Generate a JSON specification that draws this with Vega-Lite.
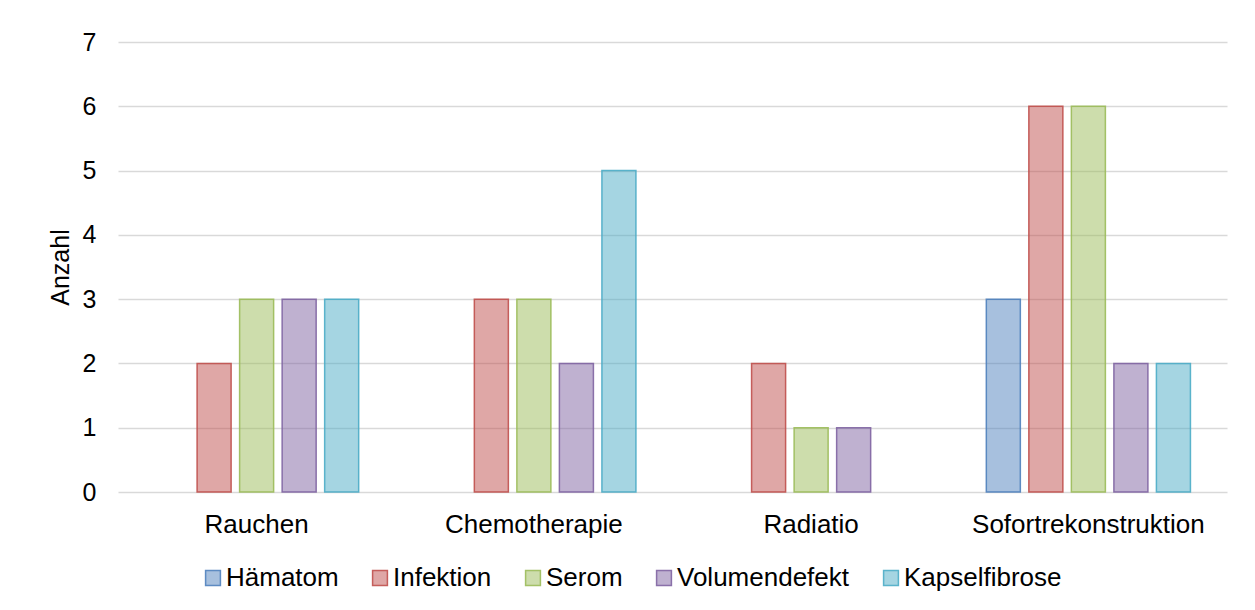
{
  "$schema": "https://vega.github.io/schema/vega-lite/v6.json",
  "width": 1109,
  "height": 450,
  "autosize": {"type": "none"},
  "padding": {"left": 118, "top": 42, "right": 28, "bottom": 118},
  "background": "white",
  "config": {
    "font": "Liberation Sans",
    "view": {"stroke": null},
    "axis": {"labelFont": "Liberation Sans", "titleFont": "Liberation Sans", "labelColor": "#000000", "titleColor": "#000000"}
  },
  "data": {
    "values": [
      {"kategorie": "Rauchen", "serie": "Infektion", "anzahl": 2},
      {"kategorie": "Rauchen", "serie": "Serom", "anzahl": 3},
      {"kategorie": "Rauchen", "serie": "Volumendefekt", "anzahl": 3},
      {"kategorie": "Rauchen", "serie": "Kapselfibrose", "anzahl": 3},
      {"kategorie": "Chemotherapie", "serie": "Infektion", "anzahl": 3},
      {"kategorie": "Chemotherapie", "serie": "Serom", "anzahl": 3},
      {"kategorie": "Chemotherapie", "serie": "Volumendefekt", "anzahl": 2},
      {"kategorie": "Chemotherapie", "serie": "Kapselfibrose", "anzahl": 5},
      {"kategorie": "Radiatio", "serie": "Infektion", "anzahl": 2},
      {"kategorie": "Radiatio", "serie": "Serom", "anzahl": 1},
      {"kategorie": "Radiatio", "serie": "Volumendefekt", "anzahl": 1},
      {"kategorie": "Sofortrekonstruktion", "serie": "Hämatom", "anzahl": 3},
      {"kategorie": "Sofortrekonstruktion", "serie": "Infektion", "anzahl": 6},
      {"kategorie": "Sofortrekonstruktion", "serie": "Serom", "anzahl": 6},
      {"kategorie": "Sofortrekonstruktion", "serie": "Volumendefekt", "anzahl": 2},
      {"kategorie": "Sofortrekonstruktion", "serie": "Kapselfibrose", "anzahl": 2}
    ]
  },
  "mark": {"type": "bar", "fillOpacity": 0.5, "strokeWidth": 1.5, "strokeOpacity": 0.9},
  "encoding": {
    "x": {
      "field": "kategorie",
      "type": "nominal",
      "sort": ["Rauchen", "Chemotherapie", "Radiatio", "Sofortrekonstruktion"],
      "scale": {"paddingInner": 0, "paddingOuter": 0},
      "axis": {"title": null, "labelAngle": 0, "labelFontSize": 26, "labelPadding": 19, "labelLimit": 500, "ticks": false, "domain": false}
    },
    "xOffset": {
      "field": "serie",
      "type": "nominal",
      "scale": {"domain": ["Hämatom", "Infektion", "Serom", "Volumendefekt", "Kapselfibrose"], "paddingInner": 0.2, "paddingOuter": 0.86}
    },
    "y": {
      "field": "anzahl",
      "type": "quantitative",
      "scale": {"domain": [0, 7], "nice": false},
      "axis": {"title": "Anzahl", "titleFontSize": 25, "titleFontWeight": "normal", "titlePadding": 9, "labelFontSize": 25, "labelPadding": 22, "values": [0, 1, 2, 3, 4, 5, 6, 7], "labelOverlap": false, "ticks": false, "domain": false, "grid": true, "gridColor": "#D9D9D9", "gridWidth": 1.3}
    },
    "color": {
      "field": "serie",
      "type": "nominal",
      "scale": {"domain": ["Hämatom", "Infektion", "Serom", "Volumendefekt", "Kapselfibrose"], "range": ["#4F81BD", "#C0504D", "#9BBB59", "#8064A2", "#4BACC6"]},
      "legend": {
        "title": null,
        "orient": "none",
        "direction": "horizontal",
        "legendX": 82,
        "legendY": 523,
        "symbolType": "square",
        "symbolSize": 220,
        "symbolStrokeWidth": 1.5,
        "labelFontSize": 26,
        "labelFont": "Liberation Sans",
        "labelColor": "#000000",
        "labelOffset": 0,
        "columnPadding": 28,
        "labelLimit": 400,
        "encode": {"symbols": {"update": {"fillOpacity": {"value": 0.5}, "strokeOpacity": {"value": 0.9}}}}
      }
    },
    "stroke": {
      "field": "serie",
      "type": "nominal",
      "scale": {"domain": ["Hämatom", "Infektion", "Serom", "Volumendefekt", "Kapselfibrose"], "range": ["#4F81BD", "#C0504D", "#9BBB59", "#8064A2", "#4BACC6"]},
      "legend": null
    }
  }
}
